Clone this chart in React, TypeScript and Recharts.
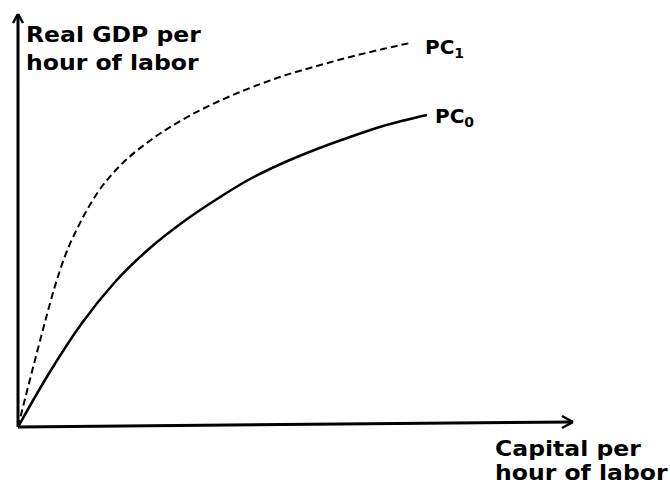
import React from "react";
import { LineChart, Line, XAxis, YAxis, ReferenceLine } from "recharts";

const pc0Capital = [0, 30, 64, 97, 132, 165, 199, 232, 265, 299, 332, 365, 409];
const pc0Output = [0, 52, 104, 145, 179, 205, 228, 248, 264, 278, 290, 301, 312];

const pc1Capital = [0, 7, 17, 27, 37, 47, 59, 80, 97, 130, 164, 197, 232, 265, 299, 332, 365, 392];
const pc1Output = [0, 28, 67, 105, 141, 171, 198, 235, 256, 285, 307, 324, 339, 351, 361, 370, 378, 384];

const pc0 = pc0Capital.map((x, i) => ({ x, y: pc0Output[i] }));
const pc1 = pc1Capital.map((x, i) => ({ x, y: pc1Output[i] }));

const W = 670;
const H = 484;
const margin = { top: 7, right: 52, bottom: 57, left: 18 };

const labelFont: React.CSSProperties = {
  position: "absolute",
  fontFamily: "'DejaVu Sans', Verdana, sans-serif",
  fontWeight: "bold",
  color: "#000",
  whiteSpace: "nowrap",
};

// the original uses a wider face, so stretch the axis titles a little
const wide: React.CSSProperties = {
  transform: "scaleX(1.12)",
  transformOrigin: "left top",
};

const App: React.FC = () => {
  const axis = { stroke: "#000", strokeWidth: 3, ifOverflow: "visible" as const };
  const head = { stroke: "#000", strokeWidth: 2.5, ifOverflow: "visible" as const };

  return (
    <div style={{ position: "absolute", left: 0, top: 0, width: W, height: H, background: "#fff", overflow: "hidden" }}>
      <LineChart width={W} height={H} margin={margin}>
        <XAxis type="number" dataKey="x" domain={[0, 600]} hide />
        <YAxis type="number" dataKey="y" domain={[0, 420]} hide />

        {/* axes with open arrow heads */}
        <ReferenceLine segment={[{ x: 0, y: 0 }, { x: 0, y: 413 }]} {...axis} />
        <ReferenceLine segment={[{ x: -5, y: 404 }, { x: 0, y: 413 }]} {...head} />
        <ReferenceLine segment={[{ x: 5, y: 404 }, { x: 0, y: 413 }]} {...head} />
        <ReferenceLine segment={[{ x: 0, y: 0 }, { x: 555, y: 5 }]} {...axis} />
        <ReferenceLine segment={[{ x: 544, y: 11 }, { x: 555, y: 5 }]} {...head} />
        <ReferenceLine segment={[{ x: 544, y: -1 }, { x: 555, y: 5 }]} {...head} />

        <Line
          data={pc1}
          dataKey="y"
          type="monotone"
          stroke="#000"
          strokeWidth={2}
          strokeDasharray="7 4"
          dot={false}
          isAnimationActive={false}
        />
        <Line
          data={pc0}
          dataKey="y"
          type="monotone"
          stroke="#000"
          strokeWidth={2.5}
          dot={false}
          isAnimationActive={false}
        />
      </LineChart>

      <div style={{ ...labelFont, ...wide, left: 26, top: 21, fontSize: 21, lineHeight: "28px" }}>
        Real GDP per
        <br />
        hour of labor
      </div>
      <div style={{ ...labelFont, ...wide, left: 495, top: 437, fontSize: 21, lineHeight: "24px" }}>
        Capital per
        <br />
        hour of labor
      </div>

      <div style={{ ...labelFont, left: 425, top: 37, fontSize: 20, lineHeight: 1 }}>
        PC<span style={{ fontSize: 14, verticalAlign: "-4px" }}>1</span>
      </div>
      <div style={{ ...labelFont, left: 435, top: 106, fontSize: 20, lineHeight: 1 }}>
        PC<span style={{ fontSize: 14, verticalAlign: "-4px" }}>0</span>
      </div>
    </div>
  );
};

export default App;
